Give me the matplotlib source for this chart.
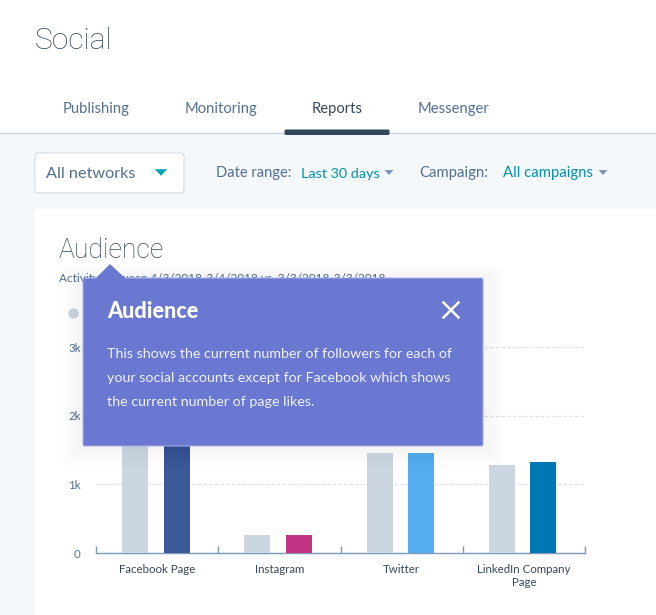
import matplotlib
matplotlib.use('Agg')
import matplotlib.pyplot as plt
from matplotlib.patches import FancyBboxPatch, Polygon, Rectangle

plt.rcParams['font.family'] = ['Lato', 'DejaVu Sans']

categories = ['Facebook Page', 'Instagram', 'Twitter', 'LinkedIn Company\nPage']
previous = [2.2, 0.265, 1.46, 1.28]
current = [2.2, 0.265, 1.46, 1.32]
bar_colors = ['#3b5998', '#c13584', '#55acee', '#0077b5']
y_ticks = [0, 1, 2, 3]
y_labels = ['0', '1k', '2k', '3k']
tabs = ['Publishing', 'Monitoring', 'Reports', 'Messenger']

W, H = 656, 615
DARK = '#33475b'
MID = '#516f90'
TEAL = '#0091ae'
TOOLTIP = '#6a78d1'
HEAD_FONT = ['Roboto', 'DejaVu Sans']


def box(ax, x0, y0, x1, y1, color, edge='none', pad=2, z=1, alpha=1.0, lw=0.7):
    ax.add_patch(FancyBboxPatch((x0 + pad, y0 + pad), x1 - x0 - 2 * pad, y1 - y0 - 2 * pad,
                                boxstyle=f'round,pad={pad}', fc=color, ec=edge, lw=lw,
                                zorder=z, alpha=alpha))


def caret(ax, x, y, size, color):
    ax.add_patch(Polygon([(x - size, y - size * 0.55), (x + size, y - size * 0.55), (x, y + size * 0.55)],
                         fc=color, ec='none'))


fig = plt.figure(figsize=(W / 100, H / 100), dpi=100)

# page behind the chart
page = fig.add_axes([0, 0, 1, 1], zorder=0)
page.set_xlim(0, W)
page.set_ylim(H, 0)
page.axis('off')
page.add_patch(Rectangle((0, 132), W, H - 132, fc='#f5f8fa', ec='none'))
page.plot([0, W], [132.5, 132.5], color='#cbd6e2', lw=1)
page.add_patch(FancyBboxPatch((286, 131), 102, 2.5, boxstyle='round,pad=1.5', fc=DARK, ec='none', zorder=3))
page.text(35, 41, 'Social', fontsize=21.6, color=DARK, family=HEAD_FONT, weight='light', va='center')
for name, x in zip(tabs, [63, 185, 312, 418]):
    page.text(x, 109, name, fontsize=10.6, color=DARK if name == 'Reports' else MID, va='center')

box(page, 35, 153, 184, 193, 'white', edge='#cbd6e2', pad=3)
page.text(46, 174, 'All networks', fontsize=11.7, color=MID, va='center')
caret(page, 161, 172.5, 6, '#00a4bd')
page.text(216, 173.5, 'Date range:', fontsize=10.5, color=MID, va='center')
page.text(301, 173.5, 'Last 30 days', fontsize=10.4, color=TEAL, va='center')
caret(page, 389, 172.5, 4.5, '#7c98b6')
page.text(419, 173.5, 'Campaign:', fontsize=10.7, color=MID, va='center')
page.text(503, 173.5, 'All campaigns', fontsize=10.7, color=TEAL, va='center')
caret(page, 603, 172.5, 4.5, '#7c98b6')

box(page, 35, 209, W + 20, H + 20, 'white', pad=3)
page.text(59, 250, 'Audience', fontsize=19.2, color=DARK, family=HEAD_FONT, weight='light', va='center')
page.text(59, 279, 'Activity between 4/3/2018-3/4/2018 vs. 3/3/2018-3/3/2018', fontsize=8.5,
          color=MID, va='center')
page.plot([73], [313], 'o', ms=7.5, color='#cbd6e2', mec='none')

# bar chart, with the page pixels 96..585 and 553..347 as its frame
ax = fig.add_axes([96 / W, 1 - 553 / H, (585 - 96) / W, (553 - 347.3) / H], zorder=1)
ax.patch.set_alpha(0)
ax.set_xlim(0, 4)
ax.set_ylim(0, 3)
xs = [i + 0.5 for i in range(len(categories))]
ax.bar([x - 0.18 for x in xs], previous, width=0.213, color='#cbd6e2', zorder=3)
ax.bar([x + 0.16 for x in xs], current, width=0.213, color=bar_colors, zorder=3)
ax.set_yticks(y_ticks, y_labels)
ax.set_xticks(xs, categories)
ax.set_xticks(range(5), minor=True)
ax.tick_params(axis='x', which='major', length=0, pad=8, labelsize=8.3, labelcolor=DARK)
ax.tick_params(axis='x', which='minor', direction='in', length=5, width=1, color='#7c98b6')
ax.tick_params(axis='y', length=0, pad=11, labelsize=8.3, labelcolor=MID)
ax.grid(axis='y', color='#dfe3eb', linestyle=(0, (3, 1.5)), lw=0.9, zorder=1)
for side in ['top', 'left', 'right']:
    ax.spines[side].set_visible(False)
ax.spines['bottom'].set_color('#7c98b6')
ax.spines['bottom'].set_linewidth(1)

# tooltip on top of everything
top = fig.add_axes([0, 0, 1, 1], zorder=2)
top.set_xlim(0, W)
top.set_ylim(H, 0)
top.axis('off')
top.patch.set_alpha(0)
for grow in range(2, 24, 2):
    box(top, 83 - grow, 278 - grow * 0.6, 483 + grow, 446 + grow, 'black', pad=3, alpha=0.002)
box(top, 83, 278, 483, 446, TOOLTIP, edge='#aab2e6', pad=1.5, z=2)
top.add_patch(Polygon([(95, 279), (110, 264), (126, 279)], fc=TOOLTIP, ec='none', zorder=3))
top.text(107, 311, 'Audience', fontsize=15.6, color='white', weight='black', va='center', zorder=4)
top.plot([443.5, 458.5], [302.5, 317.5], color='white', lw=1.8, zorder=4)
top.plot([443.5, 458.5], [317.5, 302.5], color='white', lw=1.8, zorder=4)
lines = ['This shows the current number of followers for each of',
         'your social accounts except for Facebook which shows',
         'the current number of page likes.']
for line, y in zip(lines, [353.5, 377.5, 401.5]):
    top.text(107, y, line, fontsize=10.25, color='#f0f1fb', va='center', zorder=4)

fig.savefig('out.png', dpi=100)
